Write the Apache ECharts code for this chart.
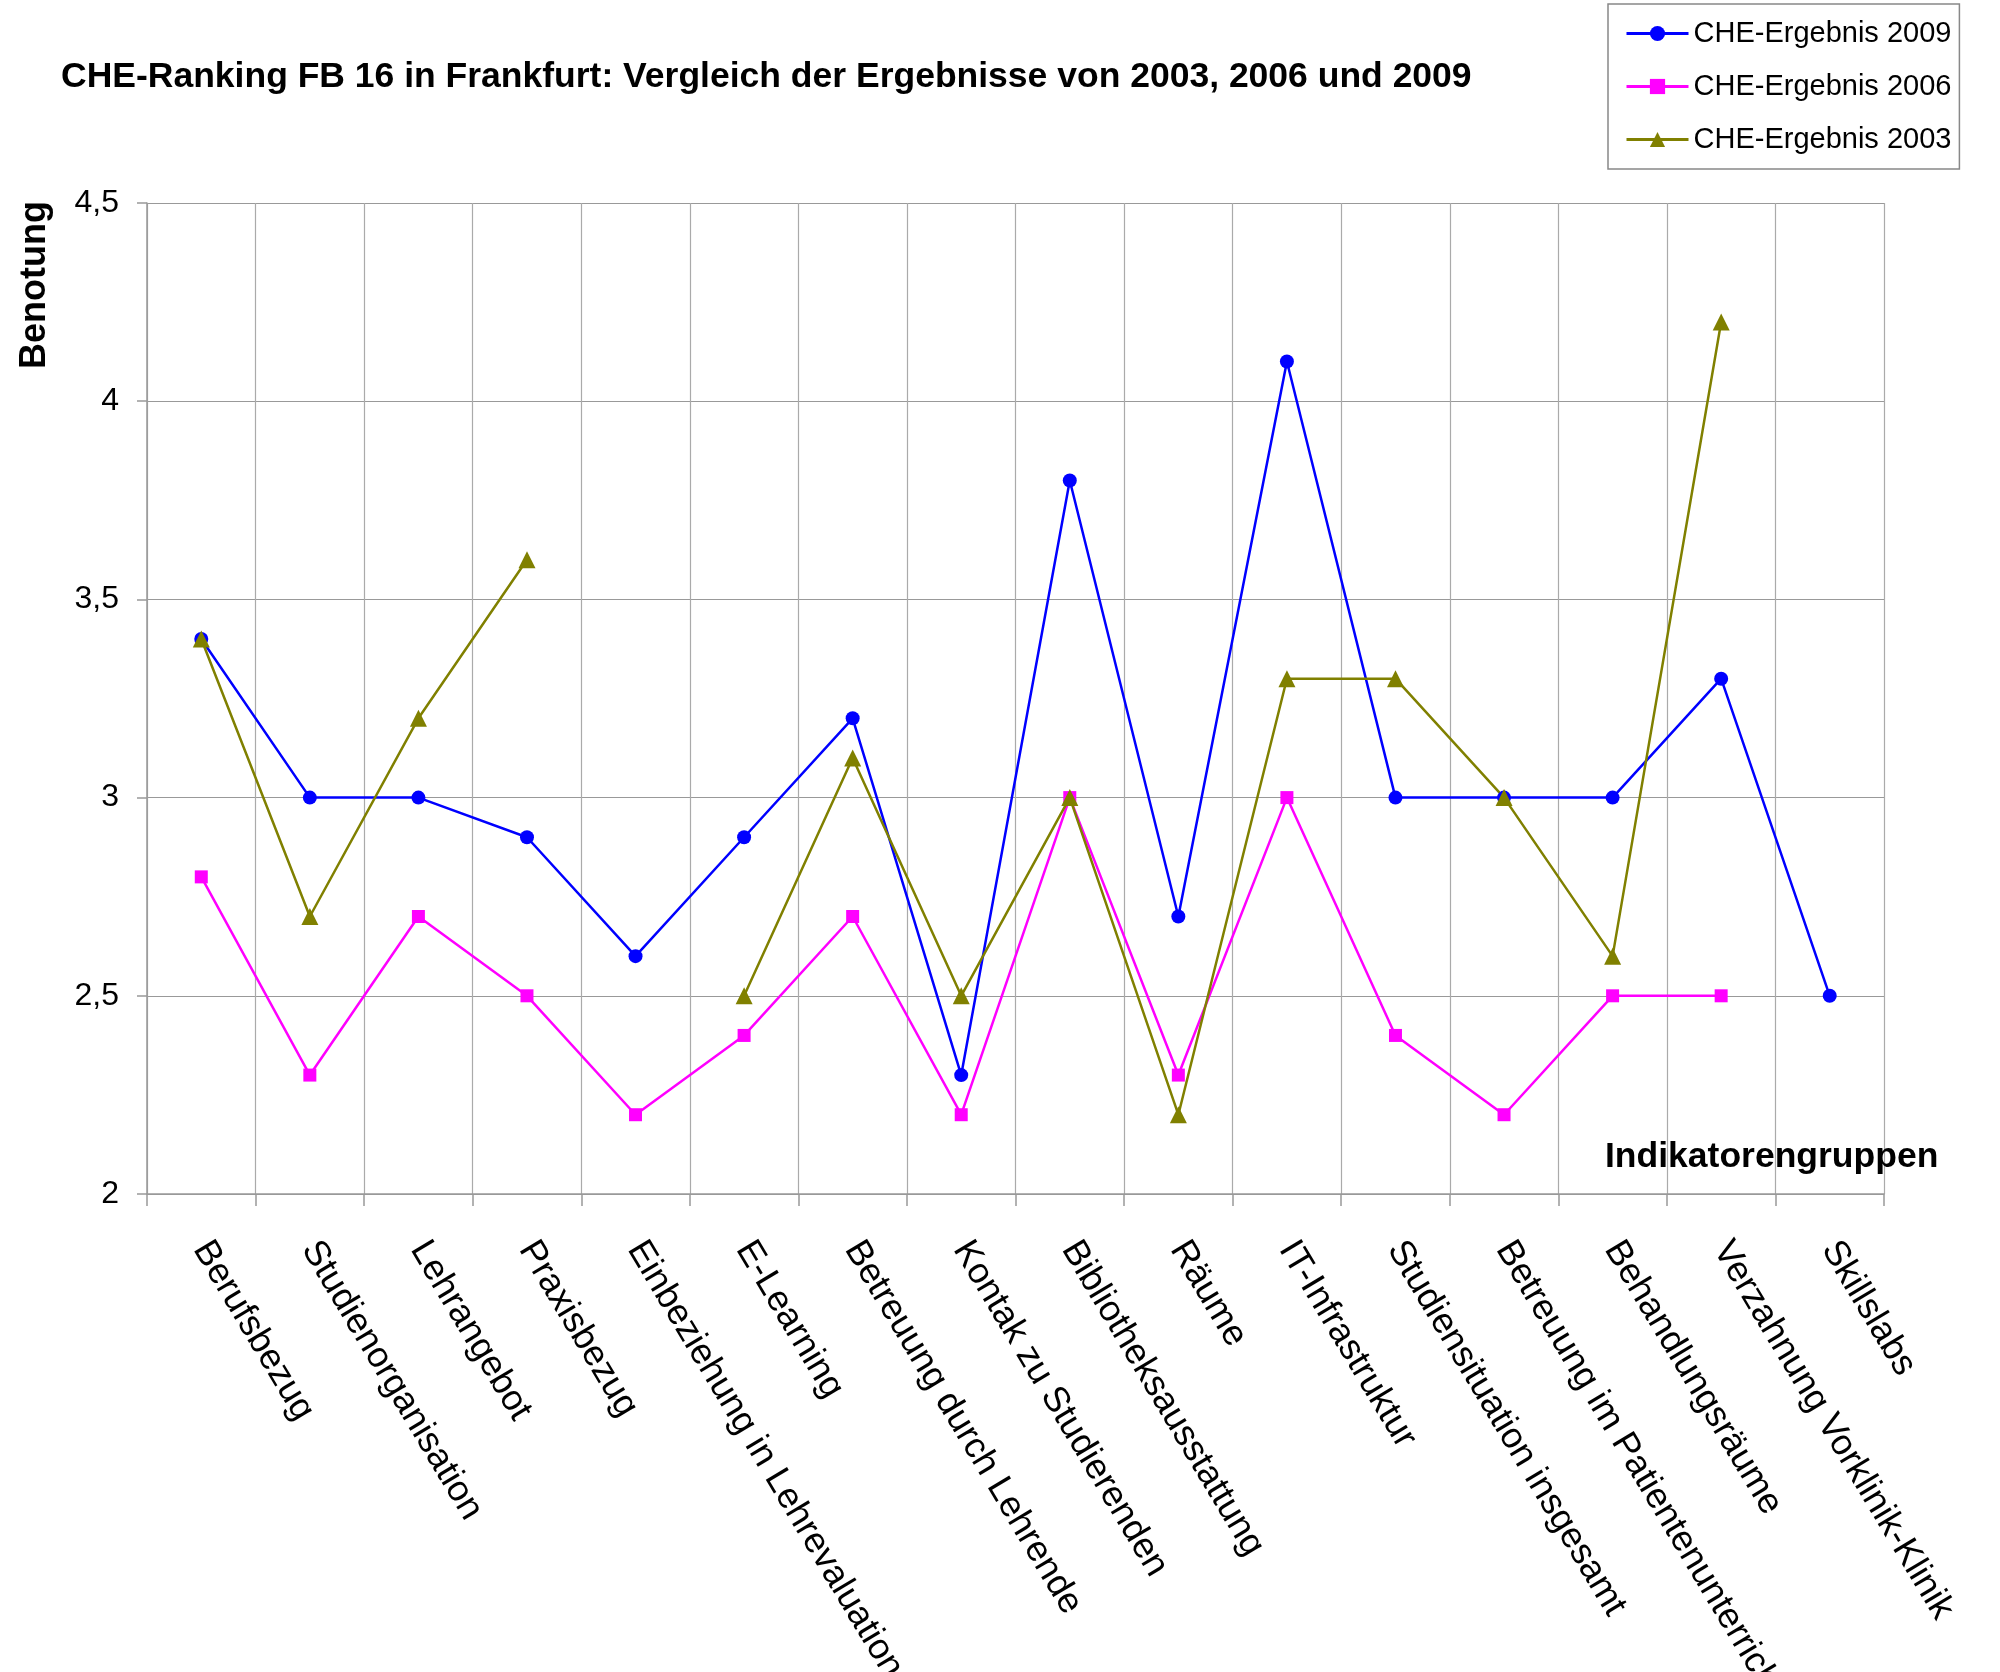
<!DOCTYPE html>
<html>
<head>
<meta charset="utf-8">
<script src="https://cdn.jsdelivr.net/npm/echarts@6/dist/echarts.min.js"></script>
<style>
html,body{margin:0;padding:0;background:#fff}
#chart{width:2000px;height:1672px}
</style>
</head>
<body>
<div id="chart"></div>
<script>
let categories=["Berufsbezug","Studienorganisation","Lehrangebot","Praxisbezug","Einbeziehung in Lehrevaluation","E-Learning","Betreuung durch Lehrende","Kontak zu Studierenden","Bibliotheksausstattung","Räume","IT-Infrastruktur","Studiensituation insgesamt","Betreuung im Patientenunterricht","Behandlungsräume","Verzahnung Vorklinik-Klinik","Skillslabs"]
let result_2009=[3.4,3.0,3.0,2.9,2.6,2.9,3.2,2.3,3.8,2.7,4.1,3.0,3.0,3.0,3.3,2.5]
let result_2006=[2.8,2.3,2.7,2.5,2.2,2.4,2.7,2.2,3.0,2.3,3.0,2.4,2.2,2.5,2.5,null]
let result_2003=[3.4,2.7,3.2,3.6,null,2.5,3.1,2.5,3.0,2.2,3.3,3.3,3.0,2.6,4.2,null]
let series_names=["CHE-Ergebnis 2009","CHE-Ergebnis 2006","CHE-Ergebnis 2003"]

let sans="'Liberation Sans',Arial,sans-serif"
let chart=echarts.init(document.getElementById('chart'))

function lineSeries(name,data,color,symbol,size){
    return {
        name:name,
        type:'line',
        data:data,
        connectNulls:false,
        symbol:symbol,
        symbolSize:size,
        lineStyle:{color:color,width:2.5},
        itemStyle:{color:color},
        animation:false
    }
}

chart.setOption({
    backgroundColor:'#fff',
    title:[
        {
            text:'CHE-Ranking FB 16 in Frankfurt: Vergleich der Ergebnisse von 2003, 2006 und 2009',
            left:61,
            top:58,
            padding:0,
            textStyle:{fontFamily:sans,fontWeight:'bold',fontSize:35.5,color:'#000',lineHeight:38}
        },
        {
            text:'Indikatorengruppen',
            left:1605,
            top:1138,
            padding:0,
            textStyle:{fontFamily:sans,fontWeight:'bold',fontSize:35.5,color:'#000',lineHeight:38}
        }
    ],
    legend:{
        orient:'vertical',
        left:1608,
        top:4,
        width:345,
        height:168,
        padding:[12,8,12,17],
        itemWidth:62,
        itemHeight:19,
        itemGap:18,
        borderColor:'#888',
        borderWidth:1.5,
        borderRadius:0,
        backgroundColor:'#fff',
        lineStyle:{width:3},
        textStyle:{fontFamily:sans,fontSize:29,color:'#000',lineHeight:35},
        data:series_names
    },
    grid:{left:147,top:203,right:116,bottom:478,containLabel:false,outerBoundsMode:'none'},
    xAxis:{
        type:'category',
        data:categories,
        boundaryGap:true,
        axisLine:{show:true,lineStyle:{color:'#999',width:1.5}},
        axisTick:{show:true,length:12,lineStyle:{color:'#999',width:1.5}},
        splitLine:{show:true,lineStyle:{color:'#aaa',width:1.2}},
        axisLabel:{
            interval:0,
            rotate:-59,
            margin:50,
            fontFamily:sans,
            fontSize:36,
            color:'#000'
        }
    },
    yAxis:{
        type:'value',
        min:2,
        max:4.5,
        interval:0.5,
        axisLine:{show:true,lineStyle:{color:'#999',width:1.5}},
        axisTick:{show:true,length:10,lineStyle:{color:'#999',width:1.5}},
        splitLine:{show:true,lineStyle:{color:'#999',width:1.2}},
        axisLabel:{
            margin:28,
            fontFamily:sans,
            fontSize:32,
            color:'#000',
            formatter:function(v){return String(v).replace('.',',')}
        }
    },
    graphic:[
        {
            type:'text',
            x:35,
            y:285,
            rotation:Math.PI/2,
            style:{
                text:'Benotung',
                fontFamily:sans,
                fontWeight:'bold',
                fontSize:36,
                fill:'#000',
                textAlign:'center',
                textVerticalAlign:'middle'
            }
        }
    ],
    series:[
        lineSeries(series_names[0],result_2009,'#0000ff','circle',14),
        lineSeries(series_names[1],result_2006,'#ff00ff','rect',13),
        lineSeries(series_names[2],result_2003,'#808000','triangle',17)
    ]
})
</script>
</body>
</html>
